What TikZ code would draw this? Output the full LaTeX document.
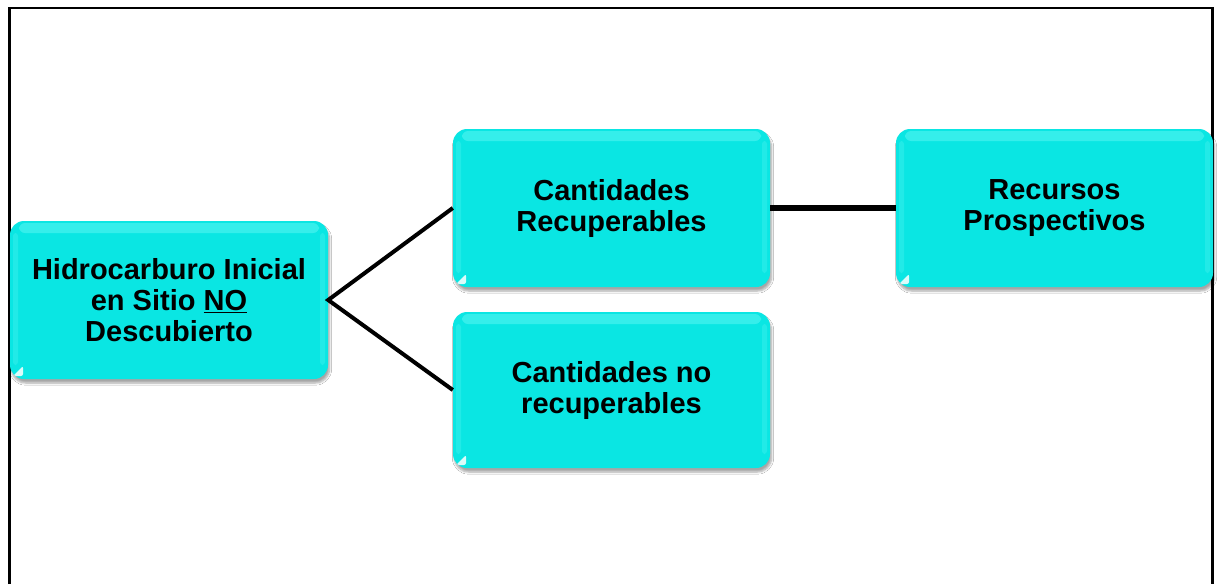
\documentclass[tikz,border=0pt]{standalone}
\usepackage{fontspec}
\setmainfont{Liberation Sans}
\usetikzlibrary{shadows.blur}
\definecolor{boxcyan}{RGB}{10,230,227}
\definecolor{boxlight}{RGB}{90,245,242}
\begin{document}
\begin{tikzpicture}[x=1pt,y=-1pt,
  glossbox/.style={
    fill=boxcyan, rounded corners=14pt, inner sep=0pt,
    align=center, font=\fontsize{29}{31}\selectfont\bfseries,
    blur shadow={shadow xshift=1.5pt, shadow yshift=-4pt,
                 shadow blur steps=6, shadow opacity=35},
    path picture={
      \fill[boxlight, opacity=0.55, rounded corners=6pt]
        ([xshift=9pt,yshift=-2pt]path picture bounding box.north west) rectangle
        ([xshift=-9pt,yshift=-12pt]path picture bounding box.north east);
      \fill[boxlight, opacity=0.3, rounded corners=3pt]
        ([xshift=3pt,yshift=-12pt]path picture bounding box.north west) rectangle
        ([xshift=8pt,yshift=14pt]path picture bounding box.south west);
      \fill[boxlight, opacity=0.3, rounded corners=3pt]
        ([xshift=-8pt,yshift=-12pt]path picture bounding box.north east) rectangle
        ([xshift=-3pt,yshift=14pt]path picture bounding box.south east);
      \fill[white, opacity=0.85, rounded corners=2pt]
        ([xshift=3pt,yshift=3pt]path picture bounding box.south west)
        -- ++(10pt,0pt) -- ++(0pt,10pt) -- cycle;
    }},
  link/.style={line width=4pt, black}
]
\useasboundingbox (0,0) rectangle (1221,584);
\fill[white] (0,0) rectangle (1221,584);

% outer frame, open at the bottom
\draw[line width=2.5pt, black] (9.5,584) -- (9.5,8) -- (1212.5,8) -- (1212.5,584);

% boxes
\node[glossbox, minimum width=318pt, minimum height=158pt] (hc) at (169,300)
  {Hidrocarburo Inicial\\en Sitio \underline{NO}\\Descubierto};
\node[glossbox, minimum width=317pt, minimum height=158pt] (rec) at (611.5,208)
  {Cantidades\\Recuperables};
\node[glossbox, minimum width=317pt, minimum height=158pt] (pros) at (1054.5,208)
  {Recursos\\Prospectivos};
\node[glossbox, minimum width=317pt, minimum height=156pt] (norec) at (611.5,390)
  {Cantidades no\\recuperables};

% connectors
\coordinate (fork) at (hc.east);
\draw[link, line join=miter] (rec.west) -- (fork) -- (norec.west);
\draw[line width=5.5pt] (rec.east) -- (pros.west);
\end{tikzpicture}
\end{document}
